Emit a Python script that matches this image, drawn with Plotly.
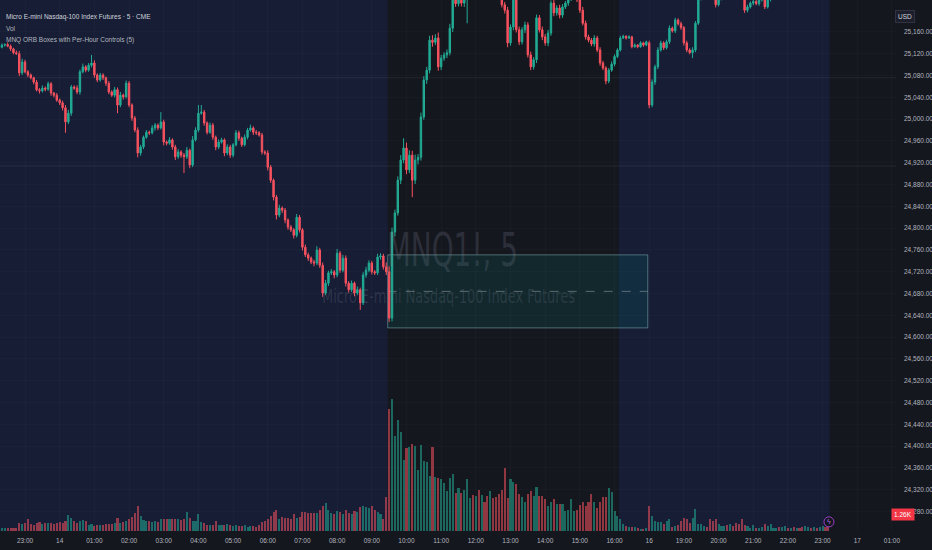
import plotly.graph_objects as go

# MNQ1! 5-minute bars (prices in index points)
# Thu 13th 22:20 -> Fri 14th 09:25
close_overnight = [
    25136, 25137, 25134, 25129, 25122, 25120, 25085, 25105, 25087, 25081,
    25076, 25068, 25054, 25052, 25057, 25055, 25065, 25048, 25044, 25035,
    25030, 25021, 24995, 25011, 25059, 25057, 25050, 25087, 25096, 25090,
    25099, 25103, 25081, 25072, 25081, 25076, 25066, 25050, 25044, 25054,
    25026, 25044, 25041, 25066, 25026, 25002, 24980, 24938, 24949, 24967,
    24976, 24975, 24984, 24989, 24984, 24995, 24958, 24956, 24962, 24949,
    24931, 24940, 24934, 24931, 24943, 24916, 24962, 24980, 25011, 25013,
    24993, 24976, 24989, 24967, 24949, 24958, 24962, 24938, 24949, 24934,
    24953, 24975, 24965, 24953, 24967, 24980, 24984, 24976, 24975, 24971,
    24940, 24938, 24912, 24888, 24857, 24824, 24837, 24833, 24815, 24802,
    24797, 24787, 24820, 24797, 24765, 24751, 24745, 24738, 24736, 24760,
    24732, 24681, 24699, 24718, 24720, 24714, 24754, 24723, 24745, 24699,
    24687, 24699, 24681, 24687, 24663, 24714, 24723, 24736, 24720, 24718,
    24747, 24749, 24729, 24720,
]
# Fri 09:30 -> 16:55
close_rth = [
    24635, 24793, 24828, 24888, 24925, 24947, 24907, 24934, 24888, 24925,
    24930, 25004, 25072, 25090, 25145, 25141, 25149, 25096, 25112, 25118,
    25122, 25167, 25222, 25212, 25224, 25213, 25226, 25232, 25240, 25236,
    25248, 25244, 25255, 25250, 25246, 25252, 25241, 25236, 25230, 25210,
    25200, 25140, 25169, 25219, 25164, 25142, 25164, 25173, 25118, 25096,
    25109, 25186, 25164, 25151, 25140, 25158, 25213, 25195, 25204, 25191,
    25206, 25213, 25221, 25232, 25238, 25219, 25200, 25176, 25151, 25145,
    25138, 25149, 25127, 25103, 25094, 25070, 25090, 25101, 25115, 25127,
    25149, 25152, 25149, 25151, 25133, 25136, 25133, 25140, 25136, 25142,
]
# Sun 16th 18:00 -> 23:10
close_sunday = [
    25026, 25068, 25096, 25127, 25140, 25131, 25142, 25167, 25162, 25182,
    25175, 25168, 25140, 25127, 25122, 25127, 25176, 25222, 25232, 25240,
    25236, 25228, 25225, 25210, 25222, 25235, 25242, 25238, 25250, 25246,
    25240, 25235, 25226, 25200, 25206, 25213, 25216, 25212, 25219, 25222,
    25206, 25220, 25230, 25238, 25245, 25242, 25250, 25256, 25252, 25260,
    25258, 25264, 25262, 25255, 25260, 25266, 25262, 25268, 25265, 25270,
    25274, 25270, 25266,
]
first_open = 25132
sunday_open = 25140

upper_wick = [
    3, 2, 4, 3, 2, 4, 5, 6, 4, 3,   3, 2, 4, 3, 5, 3, 4, 3, 2, 4,
    3, 4, 5, 6, 4, 3, 5, 4, 6, 3,   4, 15, 5, 3, 4, 3, 2, 4, 3, 5,
    4, 6, 3, 5, 4, 3, 4, 5, 4, 3,   4, 3, 5, 4, 3, 18, 4, 3, 5, 3,
    4, 5, 3, 4, 6, 3, 7, 5, 15, 13, 4, 3, 5, 4, 3, 5, 4, 3, 5, 4,
    3, 5, 4, 3, 5, 4, 6, 3, 4, 3,   4, 3, 5, 4, 3, 4, 6, 3, 4, 3,
    4, 3, 6, 4, 3, 5, 4, 3, 4, 7,   4, 5, 6, 4, 5, 3, 8, 4, 6, 5,
    4, 5, 3, 6, 4, 5, 6, 5, 4, 3,   6, 5, 4, 8,
    10, 8, 6, 7, 9, 18, 10, 9, 8, 10, 6, 8, 7, 6, 8, 9, 7, 10, 6, 5,
    6, 8, 7, 6, 5, 6, 7, 6, 5, 6,   5, 6, 5, 6, 5, 6, 5, 6, 5, 6,
    5, 6, 5, 6, 5, 6, 5, 6, 5, 6,   5, 6, 5, 6, 5, 6, 5, 6, 5, 6,
    5, 4, 5, 6, 5, 4, 5, 6, 5, 4,   4, 5, 4, 5, 4, 3, 4, 5, 4, 3,
    4, 3, 2, 3, 2, 3, 2, 3, 2, 2,
    4, 5, 4, 5, 4, 3, 4, 5, 3, 4,   3, 4, 3, 4, 3, 5, 4, 5, 4, 3,
    4, 3, 4, 3, 4, 3, 4, 3, 4, 3,   4, 3, 4, 3, 4, 3, 4, 3, 4, 3,
    4, 3, 4, 3, 4, 3, 4, 3, 4, 3,   3, 4, 3, 4, 3, 4, 3, 4, 3, 4,
    3, 4, 3,
]
lower_wick = [
    2, 3, 2, 4, 3, 2, 6, 4, 3, 4,   3, 4, 3, 5, 3, 4, 3, 5, 4, 3,
    4, 5, 20, 4, 5, 3, 4, 5, 3, 4,  3, 4, 5, 4, 3, 4, 5, 4, 3, 4,
    15, 4, 5, 3, 4, 5, 4, 8, 5, 4,  3, 4, 3, 5, 4, 3, 6, 4, 3, 5,
    6, 4, 5, 30, 4, 6, 4, 3, 4, 3,  5, 4, 3, 5, 6, 4, 3, 6, 4, 5,
    4, 3, 5, 4, 3, 4, 3, 5, 4, 3,   5, 4, 6, 5, 6, 8, 4, 5, 6, 5,
    4, 6, 4, 5, 6, 4, 5, 4, 6, 4,   5, 7, 4, 5, 4, 6, 4, 5, 4, 6,
    5, 4, 6, 4, 13, 4, 5, 4, 5, 4,  4, 5, 5, 6,
    7, 6, 8, 5, 7, 6, 8, 6, 31, 7,  8, 6, 5, 7, 6, 8, 5, 7, 6, 5,
    6, 5, 7, 6, 5, 6, 7, 50, 6, 5,  6, 5, 6, 5, 6, 5, 6, 5, 6, 5,
    6, 8, 5, 6, 5, 6, 5, 6, 5, 6,   5, 6, 5, 6, 5, 6, 5, 6, 5, 6,
    5, 4, 5, 4, 5, 4, 5, 4, 5, 4,   4, 5, 4, 5, 4, 6, 4, 3, 4, 3,
    3, 2, 3, 2, 3, 2, 3, 2, 3, 2,
    6, 4, 5, 4, 3, 4, 3, 4, 3, 4,   3, 4, 5, 4, 3, 10, 4, 3, 4, 3,
    4, 3, 4, 5, 3, 4, 3, 4, 3, 4,   3, 4, 3, 5, 4, 3, 4, 3, 4, 3,
    4, 3, 4, 3, 4, 3, 4, 3, 4, 3,   3, 4, 3, 4, 3, 4, 3, 4, 3, 4,
    3, 4, 3,
]

vol_overnight = [
    760, 700, 800, 660, 720, 680, 1940, 1800, 2000, 2940,
    1760, 1600, 1900, 2200, 1800, 2000, 1900, 2000, 1800, 2100,
    2300, 2100, 2500, 4000, 3200, 2500, 2000, 2600, 2700, 2400,
    1400, 1700, 1300, 1500, 1400, 1600, 1700, 1800, 1760, 1900,
    3200, 2100, 2300, 2500, 3000, 3500, 4600, 6300, 3800, 2800,
    2600, 2400, 2200, 2500, 2300, 3000, 2900, 3000, 3100, 3100,
    2900, 3000, 2800, 3000, 4800, 3200, 2400, 2600, 4400, 2300,
    1900, 1600, 1500, 1500, 2600, 1600, 1500, 1400, 1700, 1400,
    1300, 1400, 1300, 1200, 1500, 1000, 1300, 1200, 1100, 1600,
    2200, 2600, 2900, 3800, 4800, 5200, 3100, 3600, 3300, 3400,
    2900, 4300, 3200, 3500, 4800, 4900, 4600, 4500, 4600, 4600,
    5200, 6200, 7000, 5400, 4600, 4400, 5000, 4800, 4400, 5200,
    4500, 4200, 5000, 4900, 6100, 6400, 6100, 5800, 6200, 5400,
    4800, 4300, 3000, 8600,
]
vol_rth = [
    30800, 33200, 24000, 28000, 25000, 17800, 20800, 21200, 21800, 21400,
    15400, 21600, 17600, 17400, 13800, 21200, 13600, 13400, 13000, 12000,
    10000, 13400, 14400, 9600, 10800, 9600, 10400, 13000, 8200, 9000,
    8800, 10400, 9000, 7400, 8800, 10000, 8200, 8600, 9200, 10400,
    16000, 8400, 13000, 12400, 11800, 9400, 8600, 7200, 9200, 10200,
    8800, 11000, 8800, 8800, 8000, 6200, 7200, 8000, 6800, 6800,
    6800, 5000, 5200, 8000, 5000, 5400, 6600, 7200, 6400, 7200,
    9200, 7200, 5800, 7200, 8600, 8600, 10800, 9800, 5000, 3800,
    3000, 1700, 1300, 1000, 1000, 1000, 700, 600, 600, 700,
]
vol_sunday = [
    6200, 3800, 2520, 2340, 2340, 1680, 2520, 2940, 1000, 1260,
    1520, 2520, 3200, 2940, 2100, 3360, 5460, 1680, 1680, 1260,
    1000, 2940, 2520, 2940, 1680, 1260, 1260, 1520, 1840, 1260,
    1940, 1840, 2940, 1520, 1260, 840, 1520, 840, 840, 1000,
    1680, 1260, 1680, 840, 840, 1000, 1000, 1260, 840, 840,
    1000, 840, 840, 1000, 1260, 1000, 840, 1000, 840, 1000,
    1260, 1000, 1260,
]

# opening range box (09:30 -> 17:00) and two reference levels
orb_high = 24751
orb_low = 24617
level_lines = [25076, 24914]

# session boundaries, in bar numbers
rth_start = 133.5
rth_end = 213.5
orb_end = 223.5
sunday_last = 286.5

price_ticks = [24280, 24320, 24360, 24400, 24440, 24480, 24520, 24560, 24600,
               24640, 24680, 24720, 24760, 24800, 24840, 24880, 24920, 24960,
               25000, 25040, 25080, 25120, 25160]
time_tick_bars = [8, 20, 32, 44, 56, 68, 80, 92, 104, 116, 128, 140, 152, 164,
                  176, 188, 200, 212, 224, 236, 248, 260, 272, 284, 296, 308]
time_tick_text = ['23:00', '14', '01:00', '02:00', '03:00', '04:00', '05:00',
                  '06:00', '07:00', '08:00', '09:00', '10:00', '11:00', '12:00',
                  '13:00', '14:00', '15:00', '16:00', '16', '19:00', '20:00',
                  '21:00', '22:00', '23:00', '17', '01:00']

UP = '#22ab94'
DN = '#f7525f'
BG = '#15171f'
NAVY = '#161d35'
TXT = '#b2b5be'
FONT = 'Liberation Sans Narrow, Liberation Sans, sans-serif'
WM_FONT = 'DejaVu Sans Condensed, DejaVu Sans, sans-serif'

closes = close_overnight + close_rth + close_sunday
volumes = vol_overnight + vol_rth + vol_sunday
bars = list(range(len(closes)))
opens = [first_open] + closes[:-1]
opens[len(close_overnight) + len(close_rth)] = sunday_open
highs = [max(o, c) + u for o, c, u in zip(opens, closes, upper_wick)]
lows = [min(o, c) - d for o, c, d in zip(opens, closes, lower_wick)]
vol_colors = ['rgba(34,171,148,0.55)' if c >= o else 'rgba(247,82,95,0.55)'
              for o, c in zip(opens, closes)]

fig = go.Figure()

fig.add_trace(go.Bar(
    x=bars, y=volumes, yaxis='y2', width=0.72,
    marker=dict(color=vol_colors, line=dict(width=0)),
    hoverinfo='skip', showlegend=False,
))

fig.add_trace(go.Candlestick(
    x=bars, open=opens, high=highs, low=lows, close=closes,
    increasing=dict(line=dict(color=UP, width=1), fillcolor=UP),
    decreasing=dict(line=dict(color=DN, width=1), fillcolor=DN),
    whiskerwidth=0, hoverinfo='skip', showlegend=False,
))

# event marker on the last bar
fig.add_trace(go.Scatter(
    x=[sunday_last - 0.3], y=[2300], yaxis='y2', mode='markers+text',
    marker=dict(size=10, color=BG, line=dict(color='#9c3fc9', width=1)),
    text=['ϟ'], textfont=dict(size=7, color='#b36ae0'), textposition='middle center',
    cliponaxis=False, hoverinfo='skip', showlegend=False,
))

shapes = [
    dict(type='rect', xref='x', yref='paper', x0=-2, x1=rth_start, y0=0, y1=1,
         fillcolor=NAVY, line=dict(width=0), layer='below'),
    dict(type='rect', xref='x', yref='paper', x0=rth_end, x1=sunday_last, y0=0, y1=1,
         fillcolor=NAVY, line=dict(width=0), layer='below'),
    dict(type='rect', xref='x', yref='y', x0=rth_start, x1=orb_end, y0=orb_low, y1=orb_high,
         fillcolor='rgba(0,150,136,0.14)', line=dict(color='rgba(120,160,165,0.6)', width=1),
         layer='below'),
    dict(type='line', xref='x', yref='y', x0=rth_start, x1=orb_end,
         y0=(orb_high + orb_low) / 2, y1=(orb_high + orb_low) / 2,
         line=dict(color='rgba(150,160,170,0.55)', width=1, dash='dash'), layer='below'),
]
for lv in level_lines:
    shapes.append(dict(type='line', xref='paper', yref='y', x0=0, x1=1, y0=lv, y1=lv,
                       line=dict(color='rgba(255,255,255,0.07)', width=1), layer='below'))

annotations = [
    dict(text='MNQ1!, 5', xref='paper', yref='paper', x=0.505, y=0.53,
         showarrow=False, font=dict(family=WM_FONT, size=46, color='rgba(130,135,150,0.22)')),
    dict(text='Micro E-mini Nasdaq-100 Index Futures', xref='paper', yref='paper',
         x=0.5, y=0.443, showarrow=False,
         font=dict(family=WM_FONT, size=19, color='rgba(130,135,150,0.22)')),
    dict(text='Micro E-mini Nasdaq-100 Index Futures · 5 · CME', xref='paper', yref='paper',
         x=0.004, y=1 - 11 / 531, xanchor='left', showarrow=False,
         font=dict(family=FONT, size=6.5, color='#d1d4dc')),
    dict(text='Vol', xref='paper', yref='paper', x=0.004, y=1 - 22.5 / 531,
         xanchor='left', showarrow=False, font=dict(family=FONT, size=6.5, color=TXT)),
    dict(text='MNQ ORB Boxes with Per-Hour Controls (5)', xref='paper', yref='paper',
         x=0.004, y=1 - 34 / 531, xanchor='left', showarrow=False,
         font=dict(family=FONT, size=6.5, color=TXT)),
    dict(text='USD', xref='paper', yref='paper', x=915 / 896, y=1 - 10 / 531,
         showarrow=False, bgcolor='#1c1f2b', bordercolor='#2f3341', borderwidth=1,
         borderpad=2, font=dict(family=FONT, size=6.5, color='#d1d4dc')),
    dict(text='1.26K', xref='paper', yref='paper', x=915 / 896, y=1 - 521 / 531,
         showarrow=False, bgcolor='#f23645', borderpad=2,
         font=dict(family=FONT, size=6.5, color='#ffffff')),
]

fig.update_layout(
    width=932, height=550,
    margin=dict(l=0, r=36, t=0, b=19, pad=0),
    paper_bgcolor=BG, plot_bgcolor=BG,
    shapes=shapes, annotations=annotations,
    showlegend=False, bargap=0,
    xaxis=dict(
        range=[-0.66, 309.4], rangeslider=dict(visible=False),
        tickmode='array', tickvals=time_tick_bars, ticktext=time_tick_text,
        showgrid=True, gridcolor='rgba(255,255,255,0.02)', zeroline=False,
        showline=False, ticks='', ticklabelstandoff=4,
        tickfont=dict(family=FONT, size=6.5, color=TXT), fixedrange=True,
    ),
    yaxis=dict(
        range=[24244.3, 25218.7], side='right',
        tickmode='array', tickvals=price_ticks, tickformat=',.2f',
        showgrid=True, gridcolor='rgba(255,255,255,0.02)', zeroline=False,
        showline=False, ticks='', ticklabelstandoff=7,
        tickfont=dict(family=FONT, size=6.5, color=TXT), fixedrange=True,
    ),
    yaxis2=dict(range=[0, 133812], overlaying='y', visible=False, fixedrange=True),
)

# page fills the window; the watermark is drawn in a narrow face like the original
page_fix = """
document.body.style.margin = '0';
document.body.style.background = '%s';
var gd = document.getElementById('{plot_id}');
var squeeze = {'0': 0.675, '1': 0.755};
gd.querySelectorAll('g.annotation').forEach(function (g) {
  var k = g.getAttribute('data-index');
  if (squeeze[k]) {
    var t = g.querySelector('text.annotation-text');
    t.style.transformBox = 'fill-box';
    t.style.transformOrigin = 'center';
    t.style.transform = 'scaleX(' + squeeze[k] + ')';
  }
});
""" % BG

fig.write_html('out.html', post_script=page_fix, config={'displayModeBar': False})
